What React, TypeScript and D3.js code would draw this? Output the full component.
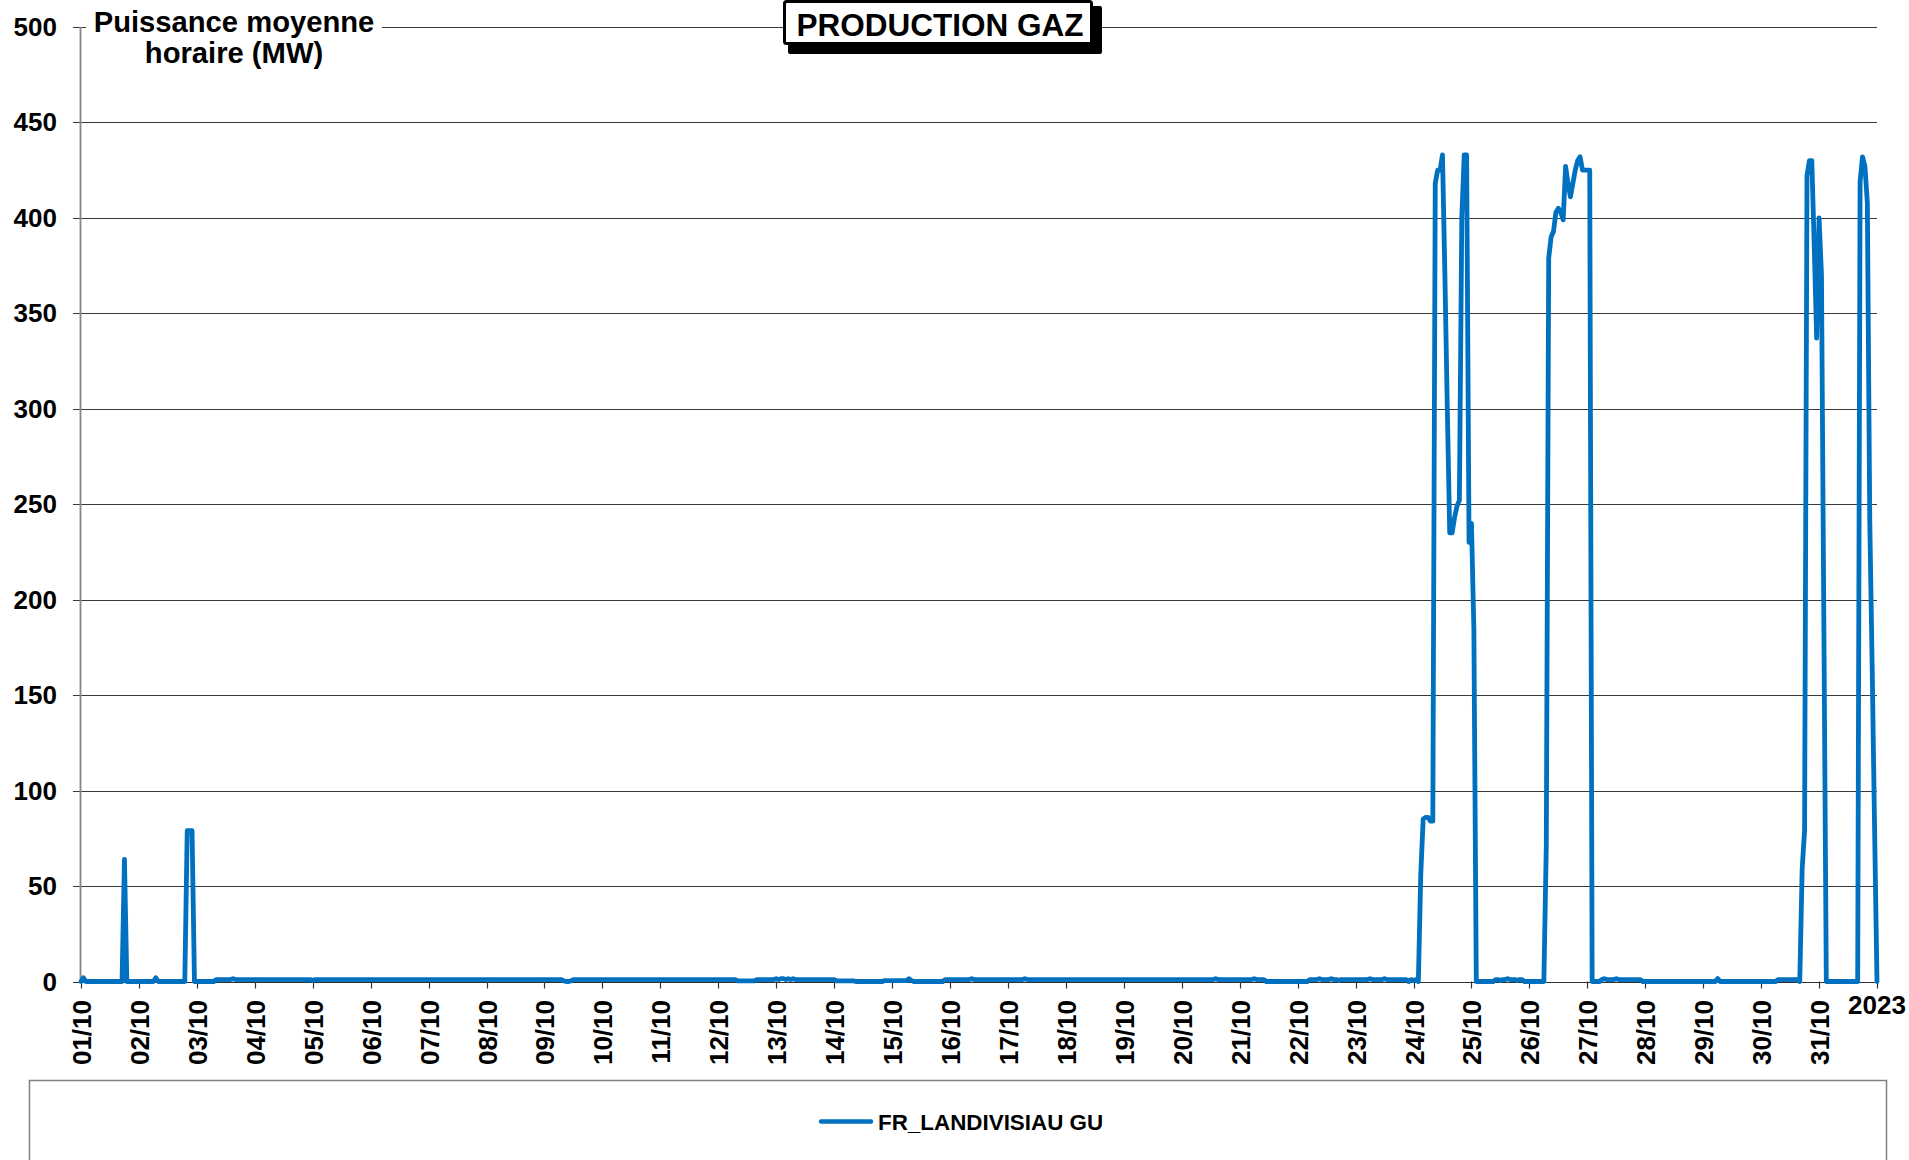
import React, { useEffect } from 'react';
import * as d3 from 'd3';

const chartTitle = 'PRODUCTION GAZ';
const axisTitleLines = ['Puissance moyenne', 'horaire (MW)'];
const seriesName = 'FR_LANDIVISIAU GU';
const yTicks = [0, 50, 100, 150, 200, 250, 300, 350, 400, 450, 500];
const dayLabels = [
  '01/10', '02/10', '03/10', '04/10', '05/10', '06/10', '07/10', '08/10', '09/10', '10/10',
  '11/10', '12/10', '13/10', '14/10', '15/10', '16/10', '17/10', '18/10', '19/10', '20/10',
  '21/10', '22/10', '23/10', '24/10', '25/10', '26/10', '27/10', '28/10', '29/10', '30/10', '31/10',
];
const endLabel = '2023';

// Hourly mean power (MW), one row of 24 hours per day
const hourlyByDay: number[][] = [
  [0, 2, 0, 0, 0, 0, 0, 0, 0, 0, 0, 0, 0, 0, 0, 0, 0, 0, 64, 0, 0, 0, 0, 0],
  [0, 0, 0, 0, 0, 0, 0, 2, 0, 0, 0, 0, 0, 0, 0, 0, 0, 0, 0, 0, 79, 79, 79, 0],
  [0, 0, 0, 0, 0, 0, 0, 0, 1, 1, 1, 1, 1, 1, 1, 1.5, 1, 1, 1, 1, 1, 1, 1, 1],
  [1, 1, 1, 1, 1, 1, 1, 1, 1, 1, 1, 1, 1, 1, 1, 1, 1, 1, 1, 1, 1, 1, 1, 1],
  [0.5, 1, 1, 1, 1, 1, 1, 1, 1, 1, 1, 1, 1, 1, 1, 1, 1, 1, 1, 1, 1, 1, 1, 1],
  [1, 1, 1, 1, 1, 1, 1, 1, 1, 1, 1, 1, 1, 1, 1, 1, 1, 1, 1, 1, 1, 1, 1, 1],
  [1, 1, 1, 1, 1, 1, 1, 1, 1, 1, 1, 1, 1, 1, 1, 1, 1, 1, 1, 1, 1, 1, 1, 1],
  [1, 1, 1, 1, 1, 1, 1, 1, 1, 1, 1, 1, 1, 1, 1, 1, 1, 1, 1, 1, 1, 1, 1, 1],
  [1, 1, 1, 1, 1, 1, 1, 1, 0.3, 0, 0, 0.3, 1, 1, 1, 1, 1, 1, 1, 1, 1, 1, 1, 1],
  [1, 1, 1, 1, 1, 1, 1, 1, 1, 1, 1, 1, 1, 1, 1, 1, 1, 1, 1, 1, 1, 1, 1, 1],
  [1, 1, 1, 1, 1, 1, 1, 1, 1, 1, 1, 1, 1, 1, 1, 1, 1, 1, 1, 1, 1, 1, 1, 1],
  [1, 1, 1, 1, 1, 1, 1, 1, 0.3, 0.3, 0.3, 0.3, 0.3, 0.3, 0.3, 0.3, 1, 1, 1, 1, 1, 1, 1, 1],
  [1.5, 1, 1.5, 1.5, 1, 1.5, 1, 1.5, 1, 1, 1, 1, 1, 1, 1, 1, 1, 1, 1, 1, 1, 1, 1, 1],
  [1, 0.3, 0.3, 0.3, 0.3, 0.3, 0.3, 0.3, 0.3, 0, 0, 0, 0, 0, 0, 0, 0, 0, 0, 0, 0, 0.5, 0.5, 0.5],
  [0.5, 0.5, 0.5, 0.5, 0.5, 0.5, 0.5, 1.5, 0.5, 0, 0, 0, 0, 0, 0, 0, 0, 0, 0, 0, 0, 0, 1, 1],
  [1, 1, 1, 1, 1, 1, 1, 1, 1, 1.5, 1, 1, 1, 1, 1, 1, 1, 1, 1, 1, 1, 1, 1, 1],
  [1, 1, 1, 1, 1, 1, 1, 1.5, 1, 1, 1, 1, 1, 1, 1, 1, 1, 1, 1, 1, 1, 1, 1, 1],
  [1, 1, 1, 1, 1, 1, 1, 1, 1, 1, 1, 1, 1, 1, 1, 1, 1, 1, 1, 1, 1, 1, 1, 1],
  [1, 1, 1, 1, 1, 1, 1, 1, 1, 1, 1, 1, 1, 1, 1, 1, 1, 1, 1, 1, 1, 1, 1, 1],
  [1, 1, 1, 1, 1, 1, 1, 1, 1, 1, 1, 1, 1, 1, 1.5, 1, 1, 1, 1, 1, 1, 1, 1, 1],
  [1, 1, 1, 1, 1, 1, 1.5, 1, 1, 1, 1, 0, 0, 0, 0, 0, 0, 0, 0, 0, 0, 0, 0, 0],
  [0, 0, 0, 0, 0, 1, 1, 1, 1, 1.5, 1, 1, 1, 1, 1.5, 1, 1, 0.5, 1, 1, 1, 1, 1, 1],
  [1, 1, 1, 1, 1, 1, 1.5, 1, 1, 1, 1, 1, 1.5, 1, 1, 1, 1, 1, 1, 1, 1, 1, 0, 1],
  [0.5, 1, 0, 56, 85, 86, 86, 84, 84, 418, 425, 425, 433, 370, 300, 235, 235, 243, 249, 252, 400, 433, 433, 230],
  [240, 185, 0, 0, 0, 0, 0, 0, 0, 0, 1, 1, 0.5, 1, 1, 1.5, 1, 1, 1, 0.5, 1, 1, 0, 0],
  [0, 0, 0, 0, 0, 0, 0, 71, 379, 390, 393, 403, 405, 403, 399, 427, 418, 411, 418, 425, 430, 432, 425, 425],
  [425, 425, 0, 0, 0, 0, 1, 1.5, 1, 1, 1, 1, 1.5, 1, 1, 1, 1, 1, 1, 1, 1, 1, 1, 0],
  [0, 0, 0, 0, 0, 0, 0, 0, 0, 0, 0, 0, 0, 0, 0, 0, 0, 0, 0, 0, 0, 0, 0, 0],
  [0, 0, 0, 0, 0, 0, 1.5, 0, 0, 0, 0, 0, 0, 0, 0, 0, 0, 0, 0, 0, 0, 0, 0, 0],
  [0, 0, 0, 0, 0, 0, 0, 1, 1, 1, 1, 1, 1, 1, 1, 1, 0, 59, 79, 422, 430, 430, 385, 337],
  [400, 370, 185, 0, 0, 0, 0, 0, 0, 0, 0, 0, 0, 0, 0, 0, 0, 419, 432, 427, 408, 242, 165, 80],
];
const endValue = 0;

const FONT = '"Liberation Sans", Arial, Helvetica, sans-serif';
const BLUE = '#0070C0';

export default function App() {
  useEffect(() => {
    document.body.style.margin = '0';
    document.body.style.overflow = 'hidden';
  }, []);

  const W = 1909;
  const H = 1160;
  const left = 81;
  const right = 1877;
  const top = 27;
  const bottom = 981.5;
  const totalHours = dayLabels.length * 24;

  const x = d3.scaleLinear().domain([0, totalHours]).range([left, right]);
  const y = d3.scaleLinear().domain([0, 500]).range([bottom, top]);

  const values = hourlyByDay.flat().concat([endValue]);
  const pts: [number, number][] = values.map((v, i) => [i, v]);
  const line = d3
    .line<[number, number]>()
    .x((d) => x(d[0]))
    .y((d) => y(d[1]));

  const dayTicks = d3.range(0, dayLabels.length + 1).map((d) => d * 24);

  return (
    <svg
      width={W}
      height={H}
      style={{ position: 'absolute', left: 0, top: 0, background: '#fff' }}
      fontFamily={FONT}
    >
      <rect x={0} y={0} width={W} height={H} fill="#fff" />
      {/* gridlines */}
      {yTicks.map((t) => (
        <line
          key={'g' + t}
          x1={73}
          x2={right}
          y1={Math.round(y(t)) + 0.5}
          y2={Math.round(y(t)) + 0.5}
          stroke={t === 0 ? '#333' : '#3a3a3a'}
          strokeWidth={1.2}
        />
      ))}
      {/* y axis */}
      <line x1={80.5} x2={80.5} y1={y(500)} y2={y(0)} stroke="#858585" strokeWidth={1.8} />
      {yTicks.map((t) => (
        <text
          key={'yl' + t}
          x={57}
          y={y(t) + 9}
          textAnchor="end"
          fontSize={26}
          fontWeight="bold"
          fill="#000"
        >
          {t}
        </text>
      ))}
      {/* x ticks */}
      {dayTicks.map((h) => (
        <line
          key={'xt' + h}
          x1={Math.round(x(h)) + 0.5}
          x2={Math.round(x(h)) + 0.5}
          y1={bottom}
          y2={bottom + 7}
          stroke="#333"
          strokeWidth={1.2}
        />
      ))}
      {dayLabels.map((lab, i) => (
        <text
          key={'xl' + i}
          transform={`translate(${x(i * 24) + 10},1000) rotate(-90)`}
          textAnchor="end"
          fontSize={26}
          fontWeight="bold"
          fill="#000"
        >
          {lab}
        </text>
      ))}
      <text x={x(totalHours)} y={1014} textAnchor="middle" fontSize={26} fontWeight="bold" fill="#000">
        {endLabel}
      </text>

      {/* series */}
      <path
        d={line(pts) || ''}
        fill="none"
        stroke={BLUE}
        strokeWidth={4.8}
        strokeLinejoin="round"
        strokeLinecap="round"
      />

      {/* axis title */}
      <rect x={86} y={6} width={296} height={30} fill="#fff" />
      {axisTitleLines.map((t, i) => (
        <text
          key={'at' + i}
          x={234}
          y={32 + i * 31}
          textAnchor="middle"
          fontSize={29.2}
          fontWeight="bold"
          fill="#000"
        >
          {t}
        </text>
      ))}

      {/* chart title box */}
      <rect x={788} y={6} width={314} height={48} rx={2} fill="#000" />
      <rect x={784.5} y={1.5} width={307} height={42} rx={2} fill="#fff" stroke="#000" strokeWidth={3} />
      <text x={940} y={36} textAnchor="middle" fontSize={31.5} fontWeight="bold" fill="#000">
        {chartTitle}
      </text>

      {/* legend */}
      <rect x={29.5} y={1080.5} width={1857} height={200} fill="#fff" stroke="#7f7f7f" strokeWidth={1.5} />
      <line x1={821} x2={871} y1={1121.5} y2={1121.5} stroke={BLUE} strokeWidth={4.5} strokeLinecap="round" />
      <text x={878} y={1129.5} fontSize={22.4} fontWeight="bold" fill="#000">
        {seriesName}
      </text>
    </svg>
  );
}
